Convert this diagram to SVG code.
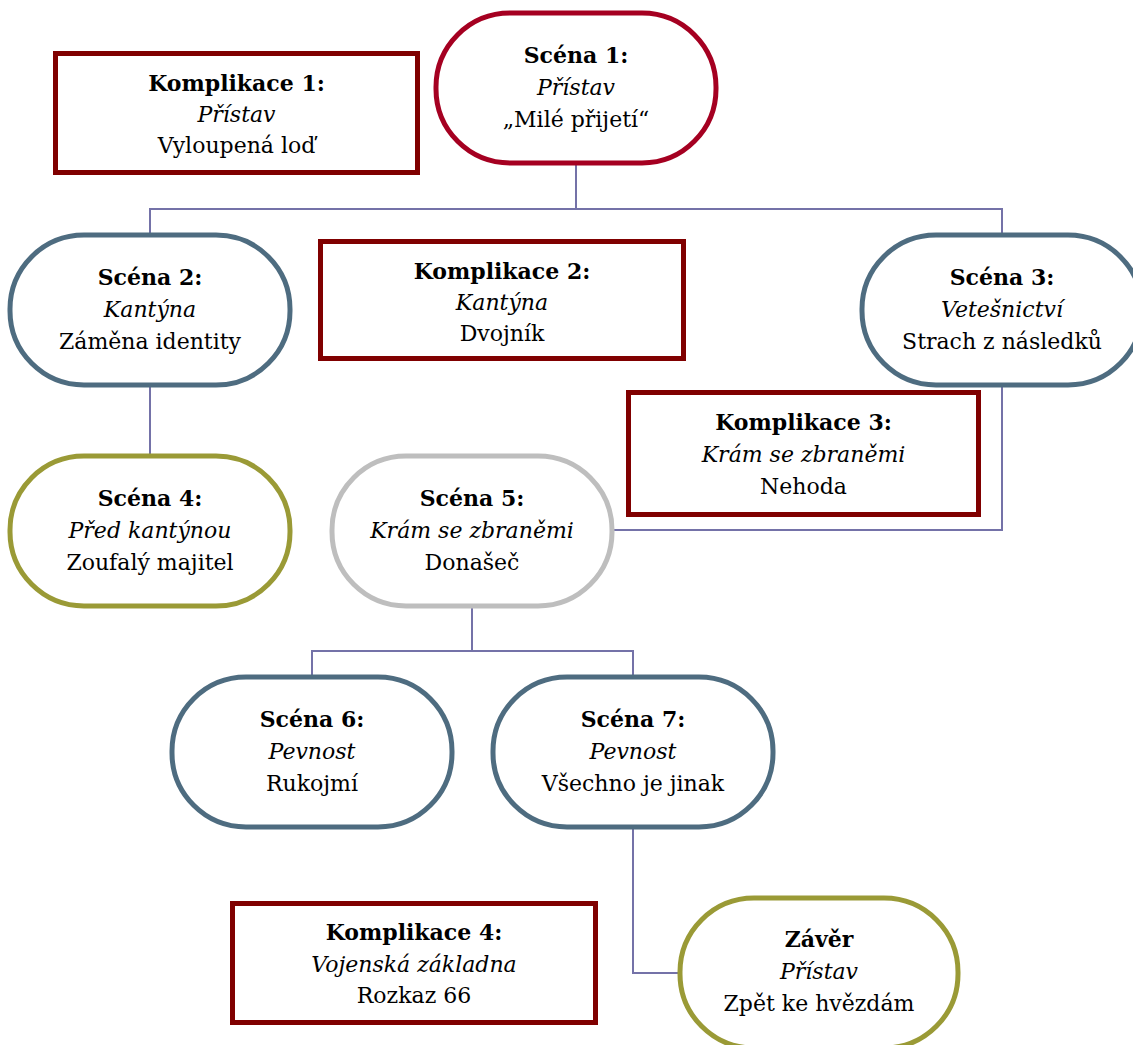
<svg xmlns="http://www.w3.org/2000/svg" width="1133" height="1045" viewBox="0 0 1133 1045">
<style>
.n{fill:#fff;stroke-width:5}
.red{stroke:#A50021}
.kom{stroke:#800000}
.blue{stroke:#4E6C80}
.olive{stroke:#9A9A36}
.gray{stroke:#BEBEBE}
text{font-family:"DejaVu Serif","Liberation Serif",serif;font-size:22px;fill:#000;text-anchor:middle}
.b{font-weight:bold}
.i{font-style:italic}
.c{fill:none;stroke:#7472A8;stroke-width:2}
</style>
<rect width="1133" height="1045" fill="#fff"/>
<g id="connectors">
<path class="c" d="M576 163V209M150 235V209H1002V235"/>
<path class="c" d="M150 385V456"/>
<path class="c" d="M1002 385V530H612"/>
<path class="c" d="M472 606V651M312 677V651H633V677"/>
<path class="c" d="M633 827V973H680"/>
</g>
<g id="scena1">
<rect class="n red" x="436" y="13" width="280" height="150" rx="74"/>
<text x="576" y="63" class="b">Scéna 1:</text>
<text x="576" y="95" class="i">Přístav</text>
<text x="576" y="127">„Milé přijetí“</text>
</g>
<g id="komplikace1">
<rect class="n kom" x="55.5" y="53.5" width="362" height="119"/>
<text x="236.5" y="91" class="b">Komplikace 1:</text>
<text x="236.5" y="122" class="i">Přístav</text>
<text x="236.5" y="153">Vyloupená loď</text>
</g>
<g id="scena2">
<rect class="n blue" x="10" y="235" width="280" height="150" rx="74"/>
<text x="150" y="285" class="b">Scéna 2:</text>
<text x="150" y="317" class="i">Kantýna</text>
<text x="150" y="349">Záměna identity</text>
</g>
<g id="komplikace2">
<rect class="n kom" x="320.5" y="241.5" width="363" height="117"/>
<text x="502" y="279" class="b">Komplikace 2:</text>
<text x="502" y="310" class="i">Kantýna</text>
<text x="502" y="341">Dvojník</text>
</g>
<g id="scena3">
<rect class="n blue" x="862" y="235" width="280" height="150" rx="74"/>
<text x="1002" y="285" class="b">Scéna 3:</text>
<text x="1002" y="317" class="i">Vetešnictví</text>
<text x="1002" y="349">Strach z následků</text>
</g>
<g id="komplikace3">
<rect class="n kom" x="628.5" y="392.5" width="350" height="122"/>
<text x="803.5" y="430" class="b">Komplikace 3:</text>
<text x="803.5" y="462" class="i">Krám se zbraněmi</text>
<text x="803.5" y="494">Nehoda</text>
</g>
<g id="scena4">
<rect class="n olive" x="10" y="456" width="280" height="150" rx="74"/>
<text x="150" y="506" class="b">Scéna 4:</text>
<text x="150" y="538" class="i">Před kantýnou</text>
<text x="150" y="570">Zoufalý majitel</text>
</g>
<g id="scena5">
<rect class="n gray" x="332" y="456" width="280" height="150" rx="74"/>
<text x="472" y="506" class="b">Scéna 5:</text>
<text x="472" y="538" class="i">Krám se zbraněmi</text>
<text x="472" y="570">Donašeč</text>
</g>
<g id="scena6">
<rect class="n blue" x="172" y="677" width="280" height="150" rx="74"/>
<text x="312" y="727" class="b">Scéna 6:</text>
<text x="312" y="759" class="i">Pevnost</text>
<text x="312" y="791">Rukojmí</text>
</g>
<g id="scena7">
<rect class="n blue" x="493" y="677" width="280" height="150" rx="74"/>
<text x="633" y="727" class="b">Scéna 7:</text>
<text x="633" y="759" class="i">Pevnost</text>
<text x="633" y="791">Všechno je jinak</text>
</g>
<g id="komplikace4">
<rect class="n kom" x="232.5" y="903.5" width="363" height="119"/>
<text x="414" y="940" class="b">Komplikace 4:</text>
<text x="414" y="972" class="i">Vojenská základna</text>
<text x="414" y="1003">Rozkaz 66</text>
</g>
<g id="zaver">
<rect class="n olive" x="680" y="898" width="278" height="150" rx="74"/>
<text x="819" y="947" class="b">Závěr</text>
<text x="819" y="979" class="i">Přístav</text>
<text x="819" y="1011">Zpět ke hvězdám</text>
</g>
</svg>
